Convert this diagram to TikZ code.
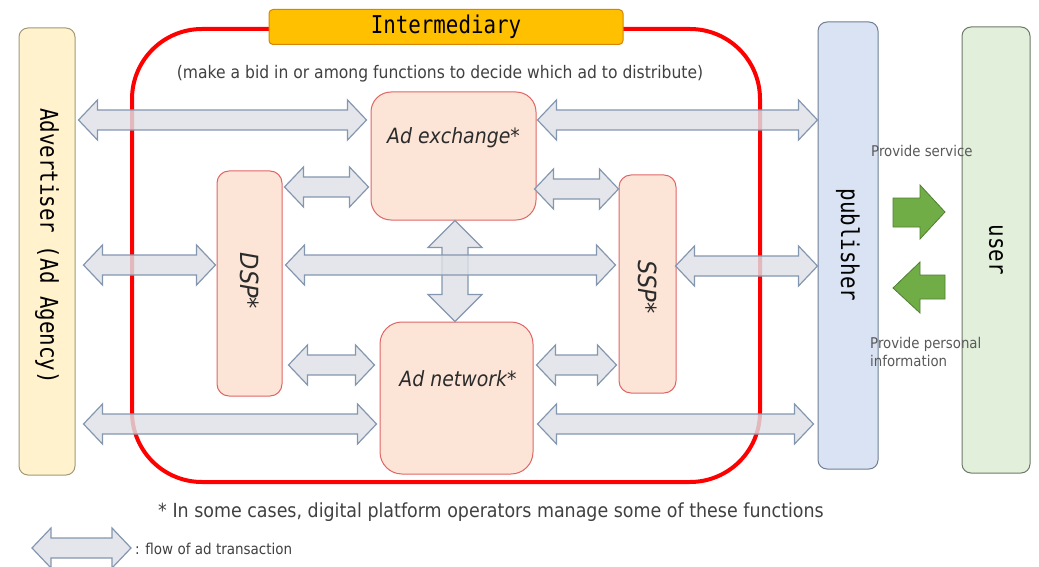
\documentclass[tikz,border=0pt]{standalone}
\usepackage{fontspec}
\setmainfont{DejaVu Sans}[FakeStretch=0.9]
\newfontfamily\labelmono{DejaVu Sans Mono}[FakeStretch=0.85]
\usetikzlibrary{calc}

\definecolor{advfill}{HTML}{FFF2CC}
\definecolor{advline}{HTML}{A09A78}
\definecolor{pubfill}{HTML}{DAE3F3}
\definecolor{publine}{HTML}{6F7F95}
\definecolor{usrfill}{HTML}{E2EFDA}
\definecolor{usrline}{HTML}{6B7B68}
\definecolor{fnfill}{HTML}{FCE4D6}
\definecolor{fnline}{HTML}{E06666}
\definecolor{intfill}{HTML}{FFC000}
\definecolor{intline}{HTML}{D98300}
\definecolor{flowfill}{HTML}{DEE1E6}
\definecolor{flowline}{HTML}{8497B0}
\definecolor{greenfill}{HTML}{70AD47}
\definecolor{greenline}{HTML}{507E32}
\definecolor{txtgray}{HTML}{404040}
\definecolor{fntext}{HTML}{2B2B2B}
\definecolor{notegray}{HTML}{595959}

% horizontal two-headed flow arrow: y, left anchor, left gap, right anchor, right gap
\newcommand\hflow[5]{%
  \path[flow] let \p1=($(#2 |- 0,#1)+(#3,0)$), \p2=($(#4 |- 0,#1)-(#5,0)$) in
    (\x1,\y1) -- (\x1+19pt,\y1+20pt) -- (\x1+19pt,\y1+10pt) -- (\x2-19pt,\y1+10pt)
    -- (\x2-19pt,\y1+20pt) -- (\x2,\y1) -- (\x2-19pt,\y1-20pt) -- (\x2-19pt,\y1-10pt)
    -- (\x1+19pt,\y1-10pt) -- (\x1+19pt,\y1-20pt) -- cycle;}
% vertical two-headed flow arrow: x, top anchor, bottom anchor
\newcommand\vflow[3]{%
  \path[flow] let \p1=(#2 -| #1,0), \p2=(#3 -| #1,0) in
    (\x1,\y1) -- (\x1+27pt,\y1-27pt) -- (\x1+13pt,\y1-27pt) -- (\x1+13pt,\y2+27pt)
    -- (\x1+27pt,\y2+27pt) -- (\x1,\y2) -- (\x1-27pt,\y2+27pt) -- (\x1-13pt,\y2+27pt)
    -- (\x1-13pt,\y1-27pt) -- (\x1-27pt,\y1-27pt) -- cycle;}

\begin{document}
\begin{tikzpicture}[x=1pt,y=-1pt,
  flow/.style={fill=flowfill, fill opacity=0.82, draw=flowline, line width=1.2pt, line join=miter},
  fnbox/.style={draw=fnline, fill=fnfill, line width=1pt, inner sep=0pt},
  party/.style={line width=1pt, inner sep=0pt, rounded corners=9pt},
  monolbl/.style={font=\labelmono\fontsize{24.5}{26}\selectfont, text=black},
  fnlbl/.style={font=\itshape\fontsize{21}{24}\selectfont, text=fntext},
  green/.style={fill=greenfill, draw=greenline, line width=0.8pt, line join=miter}]
\useasboundingbox (0,0) rectangle (1039,567);

% intermediary frame and its title tab
\node[draw=red, line width=4pt, rounded corners=70pt, minimum width=628pt,
      minimum height=453pt, inner sep=0pt] (frame) at (446,255.5) {};
\node[fill=intfill, draw=intline, line width=1pt, rounded corners=4pt,
      minimum width=354pt, minimum height=35pt, inner sep=0pt, monolbl] (inter) at (446,27) {Intermediary};
\node[font=\fontsize{17.3}{20}\selectfont, text=txtgray] (sub) at (440,74)
  {(make a bid in or among functions to decide which ad to distribute)};

% parties outside the intermediary
\node[party, draw=advline, fill=advfill, minimum width=56pt, minimum height=447pt] (adv) at (47,251.5) {};
\node[monolbl, rotate=-90] (advtxt) at (47,246) {Advertiser (Ad Agency)};
\node[party, draw=publine, fill=pubfill, minimum width=60pt, minimum height=447pt] (pub) at (848,245.5) {};
\node[monolbl, rotate=-90] (pubtxt) at (848,245) {publisher};
\node[party, draw=usrline, fill=usrfill, minimum width=68pt, minimum height=446pt] (usr) at (996,250) {};
\node[monolbl, rotate=-90] (usrtxt) at (996,250) {user};

% functions inside the intermediary
\node[fnbox, rounded corners=20pt, minimum width=165pt, minimum height=128pt,
      label={[fnlbl, yshift=18pt]center:Ad exchange*}] (adx) at (453.5,156) {};
\node[fnbox, rounded corners=22pt, minimum width=153pt, minimum height=152pt,
      label={[fnlbl, yshift=19pt, xshift=1.5pt]center:Ad network*}] (adn) at (456.5,398) {};
\node[fnbox, rounded corners=12pt, minimum width=65pt, minimum height=225pt] (dsp) at (249.5,283.5) {};
\node[fnlbl, font=\itshape\fontsize{25}{27}\selectfont, rotate=-90] (dsptxt) at (249.5,281) {DSP*};
\node[fnbox, rounded corners=12pt, minimum width=57pt, minimum height=218pt] (ssp) at (647.5,284) {};
\node[fnlbl, font=\itshape\fontsize{25}{27}\selectfont, rotate=-90] (ssptxt) at (647.5,287) {SSP*};

% flows of ad transactions
\vflow{455}{adx.south}{adn.north}
\hflow{120}{adv.east}{3}{adx.west}{4}
\hflow{120}{adx.east}{1}{pub.west}{0}
\hflow{187}{dsp.east}{2}{adx.west}{2}
\hflow{189}{adx.east}{-2}{ssp.west}{0}
\hflow{265}{adv.east}{8}{dsp.west}{1}
\hflow{265}{dsp.east}{3}{ssp.west}{3}
\hflow{266}{ssp.east}{-1}{pub.west}{0}
\hflow{365}{dsp.east}{6}{adn.west}{5}
\hflow{365}{adn.east}{3}{ssp.west}{2}
\hflow{424}{adv.east}{8}{adn.west}{3}
\hflow{424}{adn.east}{4}{pub.west}{4}

% exchange between publisher and user
\path[green] (893,198) -- (920,198) -- (920,185) -- (945,212) -- (920,239)
  -- (920,227) -- (893,227) -- cycle;
\path[green] (945,275) -- (920,275) -- (920,262) -- (893,288) -- (920,313)
  -- (920,299) -- (945,299) -- cycle;
\node[anchor=west, font=\fontsize{14.8}{16}\selectfont, text=notegray, inner sep=0pt]
  (svc) at (871,151) {Provide service};
\node[anchor=west, align=left, font=\fontsize{14.8}{18}\selectfont, text=notegray, inner sep=0pt]
  (info) at (870,352) {Provide personal\\information};

% footnote and legend
\node[font=\fontsize{19.4}{22}\selectfont, text=txtgray] (note) at (491,512)
  {* In some cases, digital platform operators manage some of these functions};
\coordinate (legL) at (32,548);
\coordinate (legR) at (131,548);
\hflow{548}{legL}{0}{legR}{0}
\node[anchor=west, font=\fontsize{15}{16}\selectfont, text=txtgray, inner sep=0pt]
  (legtxt) at (135,549) {: flow of ad transaction};
\end{tikzpicture}
\end{document}
